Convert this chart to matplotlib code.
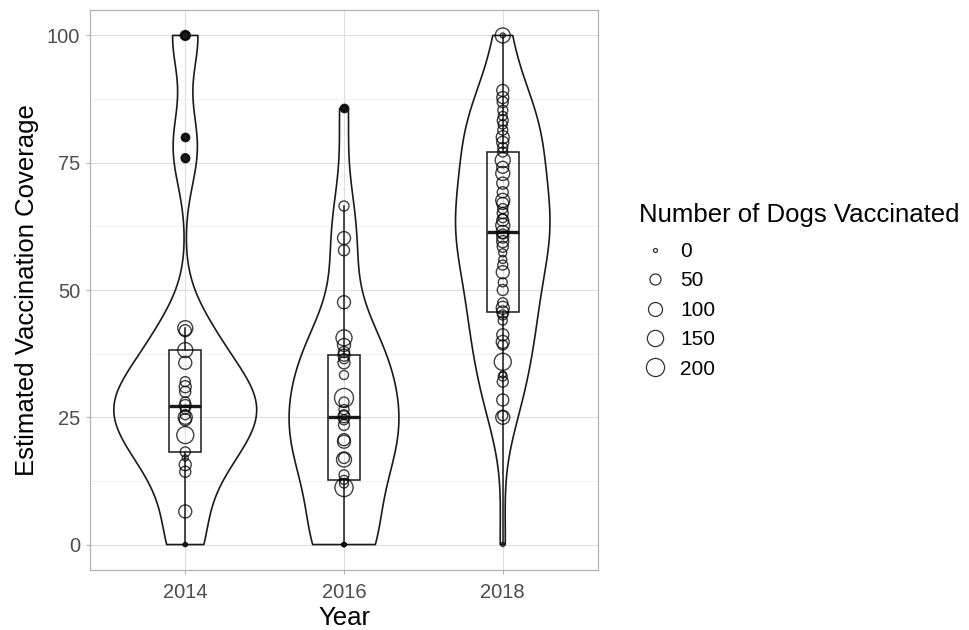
import numpy as np
import matplotlib
matplotlib.use('Agg')
import matplotlib.pyplot as plt
from matplotlib.cbook import violin_stats
from matplotlib.lines import Line2D

matplotlib.rcParams['font.family'] = ['Liberation Sans', 'DejaVu Sans']

# Data: coverage (%) and number of dogs vaccinated per point
years = ['2014', '2016', '2018']

cov_2014 = [0, 0, 6.5, 14.3, 15.7, 17.0, 18.2, 21.5, 24.5, 25.0, 25.5, 26.5, 27.3,
            28.0, 30.0, 31.0, 32.0, 35.7, 38.2, 42.0, 42.5, 76.0, 80.0, 100, 100]
dogs_2014 = [0, 0, 81, 49, 64, 4, 36, 169, 64, 100, 36, 25, 64,
             36, 49, 64, 36, 81, 121, 64, 121, 16, 4, 16, 36]

cov_2016 = [0, 0, 0, 0, 0, 0, 11.2, 12.0, 12.7, 13.7, 16.7, 17.0, 20.2, 20.6, 23.5, 24.5,
            25.1, 25.5, 26.5, 28.0, 28.8, 33.3, 35.7, 36.5, 37.2, 37.8, 39.2, 40.6,
            47.6, 57.8, 60.2, 66.5, 85.7]
dogs_2016 = [0, 0, 0, 0, 0, 0, 200, 25, 25, 36, 121, 49, 81, 64, 49, 36,
             64, 36, 36, 36, 225, 25, 64, 36, 64, 49, 81, 144,
             81, 49, 81, 36, 1]

cov_2018 = [0, 25.0, 25.3, 28.4, 32.0, 33.0, 33.4, 35.9, 39.2, 39.8, 41.2, 44.0, 45.1,
            45.7, 46.5, 47.5, 50.0, 51.5, 53.5, 54.9, 56.0, 57.3, 58.5, 59.5, 60.4, 61.0,
            61.4, 62.7, 63.7, 64.1, 65.1, 66.0, 67.0, 67.6, 69.2, 71.0, 72.9, 74.1, 75.5,
            77.1, 78.0, 79.0, 80.0, 81.4, 82.5, 83.3, 84.2, 85.3, 86.9, 87.8, 89.2, 100, 100]
dogs_2018 = [0, 100, 36, 64, 49, 25, 9, 169, 36, 81, 64, 25, 36,
             64, 81, 36, 49, 25, 81, 36, 16, 16, 49, 64, 64, 36,
             81, 100, 64, 25, 49, 36, 64, 100, 49, 64, 100, 64, 121,
             36, 36, 64, 81, 36, 25, 49, 25, 36, 49, 64, 64, 121, 1]

legend_dogs = [0, 50, 100, 150, 200]

coverage = [cov_2014, cov_2016, cov_2018]
dogs = [dogs_2014, dogs_2016, dogs_2018]
pos = [1, 2, 3]


# Gaussian kde with R's nrd0 bandwidth (what ggplot's violin uses)
def nrd0_kde(x, coords):
    x = np.asarray(x, dtype=float)
    q75, q25 = np.percentile(x, [75, 25])
    h = 0.9 * min(x.std(ddof=1), (q75 - q25) / 1.34) * len(x) ** -0.2
    u = (coords[:, None] - x[None, :]) / h
    return np.exp(-0.5 * u ** 2).sum(axis=1) / (len(x) * h * np.sqrt(2 * np.pi))


# point diameter (pt) grows with sqrt of count, like scale_size
def diam(n):
    return 0.72 * (4 + np.sqrt(np.asarray(n, dtype=float)))


fig = plt.figure(figsize=(9.7, 6.3), dpi=100)
ax = fig.add_axes([90 / 970, 60 / 630, 508 / 970, 560 / 630])

# violins, scaled by area like ggplot
stats = violin_stats(coverage, nrd0_kde, points=300)
peak = max(s['vals'].max() for s in stats)
widths = [0.9 * s['vals'].max() / peak for s in stats]
parts = ax.violin(stats, positions=pos, widths=widths, showmeans=False,
                  showextrema=False, showmedians=False)
for body in parts['bodies']:
    body.set_facecolor('none')
    body.set_edgecolor('#1a1a1a')
    body.set_linewidth(1.2)
    body.set_alpha(1)
    body.set_zorder(2)

# boxplots
ax.boxplot(coverage, positions=pos, widths=0.2, showcaps=False, patch_artist=True,
           manage_ticks=False,
           boxprops=dict(facecolor='none', edgecolor='#1a1a1a', linewidth=1.1),
           whiskerprops=dict(color='#1a1a1a', linewidth=1.1),
           medianprops=dict(color='#1a1a1a', linewidth=2.4),
           flierprops=dict(marker='o', markerfacecolor='#1a1a1a',
                           markeredgecolor='#1a1a1a', markersize=6),
           zorder=3)

# points
for i in range(3):
    d = diam(dogs[i])
    ax.scatter(np.full(len(coverage[i]), pos[i]), coverage[i], s=d ** 2,
               facecolors='none', edgecolors='black', linewidths=1.0,
               alpha=0.75, zorder=4)

ax.set_xlim(0.4, 3.6)
ax.set_ylim(-5, 105)
ax.set_xticks(pos)
ax.set_xticklabels(years)
ax.set_yticks([0, 25, 50, 75, 100])
ax.set_yticks([12.5, 37.5, 62.5, 87.5], minor=True)
ax.grid(which='major', color='#dedede', linewidth=0.8)
ax.grid(which='minor', axis='y', color='#ececec', linewidth=0.5)
ax.set_axisbelow(True)
ax.tick_params(which='major', length=3, color='#b3b3b3', labelcolor='#4d4d4d',
               labelsize=14.5, pad=4)
ax.tick_params(axis='x', which='major', pad=6)
ax.tick_params(which='minor', length=0)
for sp in ax.spines.values():
    sp.set_color('#b3b3b3')
    sp.set_linewidth(0.9)

ax.set_xlabel('Year', fontsize=18.5, labelpad=3)
ax.set_ylabel('Estimated Vaccination Coverage', fontsize=18.5, labelpad=6)

# size legend
handles = [Line2D([], [], linestyle='none', marker='o', markerfacecolor='none',
                  markeredgecolor='black', markeredgewidth=0.9, alpha=0.8,
                  markersize=diam(n)) for n in legend_dogs]
leg = fig.legend(handles, [str(n) for n in legend_dogs], loc='upper left',
                 bbox_to_anchor=(629 / 970, 1 - 193 / 630), frameon=False,
                 title='Number of Dogs Vaccinated', title_fontsize=18.5, fontsize=15,
                 alignment='left', borderpad=0, handlelength=1.5, handletextpad=0.45,
                 labelspacing=0.5)
# a bit more room between the title and the first key
leg._legend_box.sep = leg._legend_box.sep + 3

plt.savefig('out.png', dpi=100)
